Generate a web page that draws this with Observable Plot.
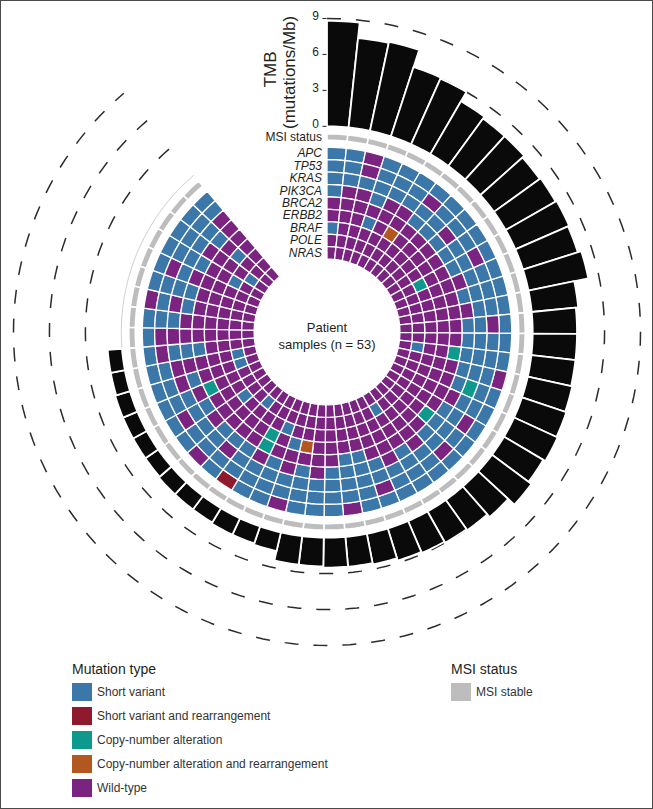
<!DOCTYPE html>
<html><head><meta charset="utf-8">
<script src="https://cdn.jsdelivr.net/npm/d3@7"></script>
<script src="https://cdn.jsdelivr.net/npm/@observablehq/plot@0.6"></script>
<style>
html,body{margin:0;padding:0;background:#fff;}
#frame{position:relative;width:653px;height:809px;box-sizing:border-box;border:1px solid #4a4a4a;overflow:hidden;font-family:"Liberation Sans",Arial,Helvetica,sans-serif;color:#231f20;}
#chart{position:absolute;left:-1px;top:-1px;}
.lg-title{position:absolute;font-size:14px;line-height:16px;color:#231f20;}
.lg-item{position:absolute;height:19px;display:flex;align-items:center;font-size:12px;color:#333;}
.lg-sw{width:20px;height:18px;margin-right:5px;flex:none;}
</style></head><body>
<div id="frame"><div id="chart"></div><div id="legend"></div></div>
<script>
// ---------------- data ----------------
const genes = ["APC","TP53","KRAS","PIK3CA","BRCA2","ERBB2","BRAF","POLE","NRAS"];
const mutationTypes = ["Short variant","Short variant and rearrangement","Copy-number alteration","Copy-number alteration and rearrangement","Wild-type"];
const mutationColors = ["#3b77a8","#8f1a2d","#0d9a8d","#b25720","#7a2380"];
const mutationCodes = ["B","R","T","O","P"];
// one character per patient sample (53), clockwise from 12 o'clock
// B short variant, R short variant + rearrangement, T copy-number alteration,
// O copy-number alteration + rearrangement, P wild-type
const APC    = "BBPBBBBBBBBBBBBBBPBBBBBBBBBBPBBBPBBRBPBBBBBBBBPBBBBBB";
const TP53   = "BBPBBBPBBBPBBBPBBBBBPBPBBBPBBBBBBBBBBBBPBBBPPBBBPBBBB";
const KRAS   = "BBBBBBBBPBBBBBBBBBTBBBBBBBBBBBBBBBBBPBBBBPPBPBPBBBBBP";
const PIK3CA = "BPPBPPBBBBBPBPBBBBBPBBBPBPBBBBPBPBPBBBPBPBPBPPBBPBPBP";
const BRCA2  = "PPPPPPPPPPPPPPPPTPPPPTPPPPPBBPPPPPTPPPPPTPPBPPPPPPPPP";
const ERBB2  = "PPPBPOPPPPPPPPPPPPPPPPPPPPPPPPPOBPTPPPPPPPPPPPPPPPPBP";
const BRAF   = "BPPPPPPPPPTPPPPPPPPPPPPPPPPPPPPPPBPPPPBPPPPPPPPPPBPPPP";
const POLE   = "PPPPPPPPPPPPPPPPBPPPPPPPBPPPPPPPPPPPBPPPPBBPPPPPPPBPP";
const NRAS   = "PPPPPPPPPPPPPPPPPPPPPPPPPPPPPPPPPPPPPPPPPPPPPPPPPPPPP";
const geneRows = [APC, TP53, KRAS, PIK3CA, BRCA2, ERBB2, BRAF, POLE, NRAS];
// MSI status per sample (S = MSI stable)
const msiStatus = "SSSSSSSSSSSSSSSSSSSSSSSSSSSSSSSSSSSSSSSSSSSSSSSSSSSSS";
// TMB (mutations/Mb) per sample; null = not available
const tmb = [8.8,7.5,7.6,6.1,6.0,5.1,4.9,4.9,4.7,4.8,4.9,4.8,5.1,3.9,3.7,3.7,3.7,3.8,3.9,4.0,
             3.8,4.1,3.4,3.1,3.0,2.9,2.8,2.6,2.5,2.5,2.4,2.4,1.6,1.5,1.5,1.4,1.4,1.4,1.3,1.3,
             1.3,1.3,1.2,1.2,null,null,null,null,null,null,null,null,null];
const tmbTicks = [0,3,6,9];
const nSamples = 53;

// ---------------- geometry (scales) ----------------
const W = 653, H = 655, CX = 327, CY = 332;
const angle = d3.scaleLinear().domain([0, nSamples]).range([0, 319.6 * Math.PI / 180]);
const ring = d3.scaleBand().domain(genes).range([185, 73]);
const rTMB = d3.scaleLinear().domain([0, 9]).range([206, 314]);
const msiR = [192, 198.5];

function polar(r, a) { return {x: r * Math.sin(a), y: r * Math.cos(a)}; }
function sector(r0, r1, a0, a1, n, extra) {
  const pts = [];
  for (let k = 0; k <= n; k++) { const a = a0 + (a1 - a0) * k / n; pts.push({...polar(r1, a), ...extra}); }
  for (let k = n; k >= 0; k--) { const a = a0 + (a1 - a0) * k / n; pts.push({...polar(r0, a), ...extra}); }
  return pts;
}
const codeToType = Object.fromEntries(mutationCodes.map((c, i) => [c, mutationTypes[i]]));

const cellPts = [];
genes.forEach((g, gi) => {
  const row = geneRows[gi];
  for (let i = 0; i < nSamples; i++) {
    const r0 = ring(g), r1 = ring(g) + ring.bandwidth();
    cellPts.push(...sector(r0, r1, angle(i), angle(i + 1), 4, {id: g + i, type: codeToType[row[i]]}));
  }
});
const msiPts = [];
for (let i = 0; i < nSamples; i++) msiPts.push(...sector(msiR[0], msiR[1], angle(i), angle(i + 1), 4, {id: "m" + i, status: msiStatus[i]}));
const barPts = [];
tmb.forEach((v, i) => { if (v != null) barPts.push(...sector(rTMB(0), rTMB(v), angle(i), angle(i + 1), 6, {id: "b" + i})); });
const gridPts = [];
tmbTicks.filter(t => t > 0).forEach(t => {
  for (let k = 0; k <= 160; k++) gridPts.push({...polar(rTMB(t), angle(0) + (angle(nSamples) - angle(0)) * k / 160), t});
});
const basePts = [];
for (let k = 0; k <= 160; k++) basePts.push(polar(rTMB(0), angle(0) + (angle(nSamples) - angle(0)) * k / 160));

const font = "Liberation Sans, Arial, Helvetica, sans-serif";
const chart = Plot.plot({
  width: W, height: H, margin: 0,
  style: {fontFamily: font, background: "transparent"},
  x: {domain: [-CX, W - CX], axis: null},
  y: {domain: [CY - H, CY], axis: null},
  color: {domain: mutationTypes, range: mutationColors},
  marks: [
    Plot.line(gridPts, {x: "x", y: "y", z: "t", stroke: "#2b2b2b", strokeWidth: 1.5, strokeDasharray: "14,15", strokeLinecap: "butt"}),
    Plot.line(basePts, {x: "x", y: "y", stroke: "#cfcfcf", strokeWidth: 1}),
    Plot.line(barPts, {x: "x", y: "y", z: "id", fill: "#0a0a0a", stroke: "white", strokeWidth: 1.8, curve: "linear-closed"}),
    Plot.line(msiPts, {x: "x", y: "y", z: "id", fill: "#bdbdbd", stroke: "white", strokeWidth: 1.6, curve: "linear-closed"}),
    Plot.line(cellPts, {x: "x", y: "y", z: "id", fill: "type", stroke: "white", strokeWidth: 1.3, curve: "linear-closed"}),
    Plot.text(genes, {x: () => -5, y: g => ring(g) + ring.bandwidth() / 2, text: d => d, textAnchor: "end", fontStyle: "italic", fontSize: 12, fill: "#231f20"}),
    Plot.text(["MSI status"], {x: () => -5, y: () => (msiR[0] + msiR[1]) / 2, text: d => d, textAnchor: "end", fontSize: 12, fill: "#231f20"}),
    Plot.text(tmbTicks, {x: () => -8, y: t => rTMB(t), dy: -2, text: t => String(t), textAnchor: "end", fontSize: 12, fill: "#231f20"}),
    Plot.link(tmbTicks, {x1: () => -4.5, x2: () => -0.5, y1: t => rTMB(t), y2: t => rTMB(t), stroke: "#231f20", strokeWidth: 1}),
    Plot.text(["TMB"], {x: () => -57, y: () => rTMB(4.5) + 3, text: d => d, rotate: -90, fontSize: 17, fill: "#231f20"}),
    Plot.text(["(mutations/Mb)"], {x: () => -37, y: () => rTMB(4.5), text: d => d, rotate: -90, fontSize: 17, fill: "#231f20"}),
    Plot.text(["Patient", "samples (n = 53)"], {x: () => 0, y: (d, i) => i === 0 ? 4 : -13, text: d => d, fontSize: 13, fill: "#231f20"})
  ]
});
document.getElementById("chart").appendChild(chart);

// ---------------- legend ----------------
const lg = document.getElementById("legend");
function addTitle(txt, left, top) { const d = document.createElement("div"); d.className = "lg-title"; d.style.left = left + "px"; d.style.top = top + "px"; d.textContent = txt; lg.appendChild(d); }
function addItem(txt, color, left, top) {
  const d = document.createElement("div"); d.className = "lg-item"; d.style.left = left + "px"; d.style.top = top + "px";
  const s = document.createElement("span"); s.className = "lg-sw"; s.style.background = color; d.appendChild(s);
  const t = document.createElement("span"); t.textContent = txt; d.appendChild(t); lg.appendChild(d);
}
addTitle("Mutation type", 71, 660);
mutationTypes.forEach((m, i) => addItem(m, mutationColors[i], 71, 681 + i * 24));
addTitle("MSI status", 450, 660);
addItem("MSI stable", "#bdbdbd", 450, 681);
</script>
</body></html>
